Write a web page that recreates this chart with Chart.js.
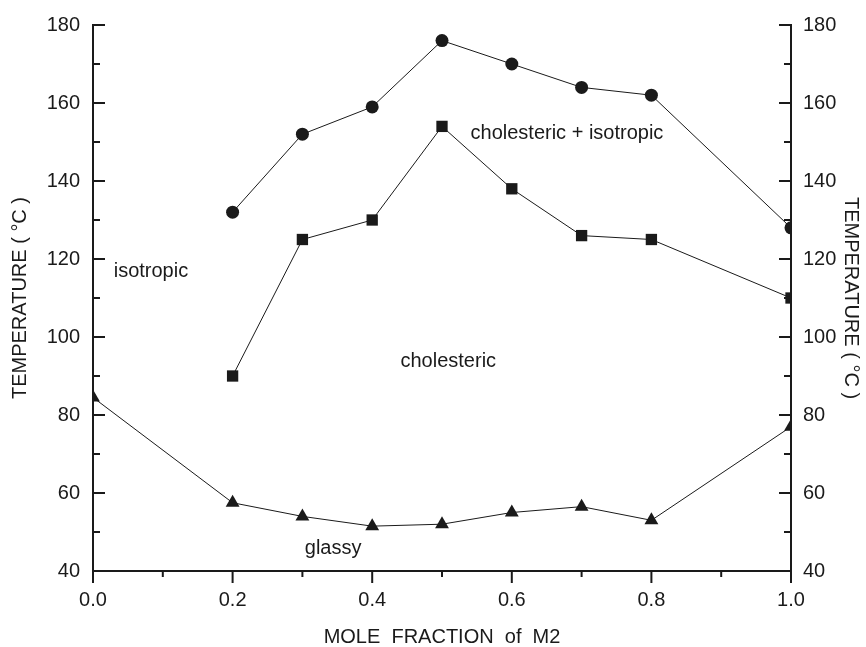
<!DOCTYPE html>
<html>
<head>
<meta charset="utf-8">
<script src="https://cdn.jsdelivr.net/npm/chart.js@4.4.1/dist/chart.umd.min.js"></script>
<style>
    html, body { margin: 0; padding: 0; background: #fff; }
    #wrap { width: 866px; height: 647px; }
</style>
</head>
<body>
<div id="wrap"><canvas id="phase-chart"></canvas></div>
<script>
// data
const circleX = [0.2, 0.3, 0.4, 0.5, 0.6, 0.7, 0.8, 1.0];
const circleY = [132, 152, 159, 176, 170, 164, 162, 128];
const squareX = [0.2, 0.3, 0.4, 0.5, 0.6, 0.7, 0.8, 1.0];
const squareY = [90, 125, 130, 154, 138, 126, 125, 110];
const triangleX = [0.0, 0.2, 0.3, 0.4, 0.5, 0.6, 0.7, 0.8, 1.0];
const triangleY = [84.5, 57.5, 54, 51.5, 52, 55, 56.5, 53, 77];

// region labels (in data coordinates)
const regionLabels = [
    { text: "isotropic", x: 0.083, y: 116.8 },
    { text: "cholesteric + isotropic", x: 0.679, y: 152.1 },
    { text: "cholesteric", x: 0.509, y: 93.7 },
    { text: "glassy", x: 0.344, y: 45.9 }
];

const ink = "#1a1a1a";
const fontName = "'Liberation Sans', Arial, sans-serif";

function toPoints(xs, ys) {
    return xs.map((x, i) => ({ x: x, y: ys[i] }));
}

function series(xs, ys, style, radius) {
    return {
        data: toPoints(xs, ys),
        borderColor: ink,
        borderWidth: 1,
        backgroundColor: ink,
        pointStyle: style,
        pointRadius: radius,
        pointHoverRadius: radius,
        pointBorderWidth: 0,
        pointBackgroundColor: ink,
        tension: 0
    };
}

// draws tick marks: y ticks inward, x ticks outward
const tickMarks = {
    id: "tickMarks",
    afterDraw(chart) {
        const ctx = chart.ctx;
        const area = chart.chartArea;
        const xs = chart.scales.x;
        const ys = chart.scales.y;
        ctx.save();
        ctx.strokeStyle = ink;
        ctx.lineWidth = 2;
        ctx.beginPath();
        for (let v = 40; v <= 180; v += 10) {
            const py = ys.getPixelForValue(v);
            const len = (v % 20 === 0) ? 12 : 7;
            ctx.moveTo(area.left, py);
            ctx.lineTo(area.left + len, py);
            ctx.moveTo(area.right, py);
            ctx.lineTo(area.right - len, py);
        }
        for (let i = 0; i <= 10; i++) {
            const px = xs.getPixelForValue(i / 10);
            const len = (i % 2 === 0) ? 12 : 6;
            ctx.moveTo(px, area.bottom);
            ctx.lineTo(px, area.bottom + len);
        }
        ctx.stroke();

        // region labels
        ctx.fillStyle = ink;
        ctx.font = "20px " + fontName;
        ctx.textAlign = "center";
        ctx.textBaseline = "middle";
        regionLabels.forEach(l => {
            ctx.fillText(l.text, xs.getPixelForValue(l.x), ys.getPixelForValue(l.y));
        });
        ctx.restore();
    }
};

const tickFont = { family: fontName, size: 20 };

new Chart(document.getElementById("phase-chart"), {
    type: "line",
    data: {
        datasets: [
            series(circleX, circleY, "circle", 6.5),
            series(squareX, squareY, "rect", 8),
            series(triangleX, triangleY, "triangle", 8)
        ]
    },
    options: {
        responsive: true,
        maintainAspectRatio: false,
        animation: false,
        layout: { padding: { top: 24, left: 0, right: 0, bottom: 0 } },
        plugins: {
            legend: { display: false },
            tooltip: { enabled: false }
        },
        scales: {
            x: {
                type: "linear",
                min: 0,
                max: 1,
                grid: { display: false, drawTicks: false },
                border: { display: true, color: ink, width: 2 },
                ticks: {
                    stepSize: 0.2,
                    color: ink,
                    font: tickFont,
                    padding: 17,
                    callback: v => v.toFixed(1)
                },
                title: {
                    display: true,
                    text: "MOLE  FRACTION  of  M2",
                    color: ink,
                    font: { family: fontName, size: 20, lineHeight: 1 },
                    padding: { top: 4, bottom: 0 }
                },
                afterFit: s => { s.height = 76; }
            },
            y: {
                position: "left",
                min: 40,
                max: 180,
                grid: { display: false, drawTicks: false },
                border: { display: true, color: ink, width: 2 },
                ticks: { stepSize: 20, color: ink, font: tickFont, padding: 13 },
                title: {
                    display: true,
                    text: "TEMPERATURE ( \u00B0C )",
                    color: ink,
                    font: tickFont,
                    padding: { top: 8, bottom: 0 }
                },
                afterFit: s => { s.width = 93; }
            },
            y2: {
                position: "right",
                min: 40,
                max: 180,
                grid: { display: false, drawTicks: false },
                border: { display: true, color: ink, width: 2 },
                ticks: { stepSize: 20, color: ink, font: tickFont, padding: 12 },
                title: {
                    display: true,
                    text: "TEMPERATURE ( \u00B0C )",
                    color: ink,
                    font: tickFont,
                    padding: { top: 3, bottom: 0 }
                },
                afterFit: s => { s.width = 75; }
            }
        }
    },
    plugins: [tickMarks]
});
</script>
</body>
</html>
